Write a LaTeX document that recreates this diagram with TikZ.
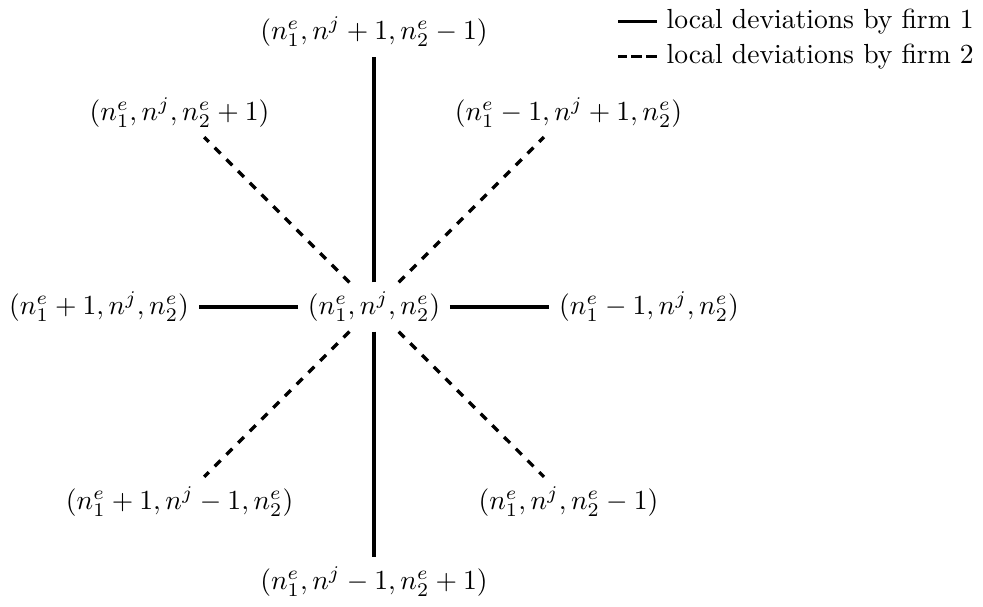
\documentclass[tikz,border=0pt]{standalone}
\usetikzlibrary{positioning, calc}

\begin{document}
\begin{tikzpicture}[
  firmone/.style = {very thick},
  firmtwo/.style = {very thick, dashed},
  state/.style = {inner sep=3.33pt}
]
  \node[state] (c) at (0,0) {$(n_1^e, n^j, n_2^e)$};

  % deviations by firm 1
  \node[state] (t) at (90:3.5cm)  {$(n_1^e, n^j+1, n_2^e-1)$};
  \node[state] (b) at (270:3.5cm) {$(n_1^e, n^j-1, n_2^e+1)$};
  \node[state] (l) at (180:3.5cm) {$(n_1^e+1, n^j, n_2^e)$};
  \node[state] (r) at (0:3.5cm)   {$(n_1^e-1, n^j, n_2^e)$};

  % deviations by firm 2
  \node[state] (tl) at (135:3.5cm) {$(n_1^e, n^j, n_2^e+1)$};
  \node[state] (tr) at (45:3.5cm)  {$(n_1^e-1, n^j+1, n_2^e)$};
  \node[state] (bl) at (225:3.5cm) {$(n_1^e+1, n^j-1, n_2^e)$};
  \node[state] (br) at (315:3.5cm) {$(n_1^e, n^j, n_2^e-1)$};

  \draw[firmone] (c) -- (t);
  \draw[firmone] (c) -- (b);
  \draw[firmone] (c) -- (l);
  \draw[firmone] (c) -- (r);

  \draw[firmtwo] (c) -- (tl);
  \draw[firmtwo] (c) -- (tr);
  \draw[firmtwo] (c) -- (bl);
  \draw[firmtwo] (c) -- (br);

  % legend
  \node[anchor=west] (k1) at (3.6,3.63) {local deviations by firm 1};
  \node[anchor=west] (k2) at (3.6,3.19) {local deviations by firm 2};
  \draw[firmone] (k1.west) -- ++(-0.5,0);
  \draw[firmtwo, dash pattern=on 4pt off 1.5pt] (k2.west) -- ++(-0.5,0);
\end{tikzpicture}
\end{document}
